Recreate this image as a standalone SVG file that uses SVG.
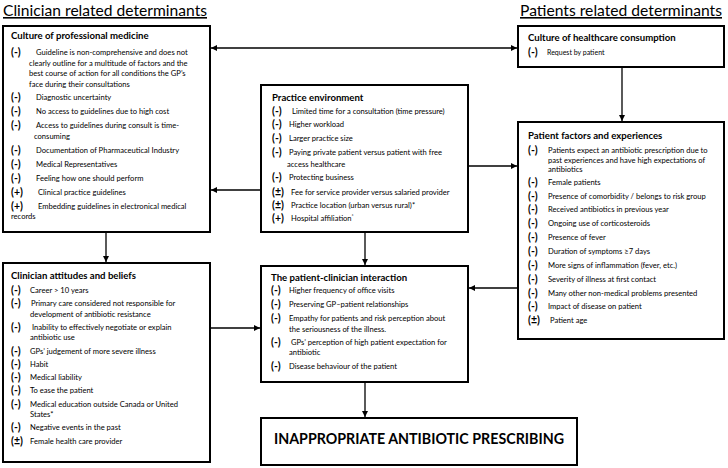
<svg xmlns="http://www.w3.org/2000/svg" width="728" height="468" viewBox="0 0 728 468">
<style>
text{font-family:Lato,"Liberation Sans",sans-serif;fill:#000}
.box{fill:#fff;stroke:#000;stroke-width:2}
.h{font-size:9.6px;font-weight:bold}
.t{font-size:7.6px}
.s{font-size:7px}
.m{font-size:10.5px;font-weight:bold}
.title{font-size:16px;text-decoration:underline}
.big{font-size:16px;font-weight:bold}
.conn line{stroke:#000;stroke-width:1.3;fill:none}
</style>
<defs>
<marker id="ah" viewBox="0 0 10 10" refX="10" refY="5" markerUnits="userSpaceOnUse" markerWidth="6" markerHeight="6" orient="auto-start-reverse">
<path d="M0,0 L10,5 L0,10 z" fill="#000"/>
</marker>
</defs>
<rect width="728" height="468" fill="#fff"/>

<text class="title" x="3" y="16" textLength="204" lengthAdjust="spacingAndGlyphs">Clinician related determinants</text>
<text class="title" x="520" y="16" textLength="202" lengthAdjust="spacingAndGlyphs">Patients related determinants</text>

<g class="conn">
<line x1="211" y1="48" x2="517" y2="48" marker-start="url(#ah)" marker-end="url(#ah)"/>
<line x1="622" y1="67" x2="622" y2="121" marker-end="url(#ah)"/>
<line x1="261" y1="190" x2="211" y2="190" marker-end="url(#ah)"/>
<line x1="468" y1="166" x2="517" y2="166" marker-end="url(#ah)"/>
<line x1="106" y1="232" x2="106" y2="262" marker-end="url(#ah)"/>
<line x1="365" y1="232" x2="365" y2="265" marker-end="url(#ah)"/>
<line x1="210" y1="328" x2="260" y2="328" marker-end="url(#ah)"/>
<line x1="517" y1="288" x2="469" y2="288" marker-end="url(#ah)"/>
<line x1="365" y1="382" x2="365" y2="417" marker-end="url(#ah)"/>
</g>

<g id="culture-professional-medicine">
<rect class="box" x="3" y="26" width="207" height="206"/>
<text class="h" x="11" y="39">Culture of professional medicine</text>
<text class="m" x="11" y="56">(-)</text><text class="t" x="36" y="55">Guideline is non-comprehensive and does not</text>
<text class="t" x="29" y="65.5">clearly outline for a multitude of factors and the</text>
<text class="t" x="29" y="76">best course of action for all conditions the GP’s</text>
<text class="t" x="29" y="86.5">face during their consultations</text>
<text class="m" x="11" y="101">(-)</text><text class="t" x="36" y="100">Diagnostic uncertainty</text>
<text class="m" x="11" y="115">(-)</text><text class="t" x="36" y="114">No access to guidelines due to high cost</text>
<text class="m" x="11" y="129">(-)</text><text class="t" x="36" y="128">Access to guidelines during consult is time-</text>
<text class="t" x="34" y="138.5">consuming</text>
<text class="m" x="11" y="153.5">(-)</text><text class="t" x="36" y="152.5">Documentation of Pharmaceutical Industry</text>
<text class="m" x="11" y="167.5">(-)</text><text class="t" x="36" y="166.5">Medical Representatives</text>
<text class="m" x="11" y="181.5">(-)</text><text class="t" x="36" y="180.5">Feeling how one should perform</text>
<text class="m" x="11" y="195.5">(+)</text><text class="t" x="38" y="194.5">Clinical practice guidelines</text>
<text class="m" x="11" y="209.5">(+)</text><text class="t" x="38" y="208.5">Embedding guidelines in electronical medical</text>
<text class="t" x="11" y="219">records</text>
</g>

<g id="clinician-attitudes-beliefs">
<rect class="box" x="3" y="263" width="207" height="199"/>
<text class="h" x="11" y="279">Clinician attitudes and beliefs</text>
<text class="m" x="11" y="294">(-)</text><text class="t" x="30" y="293">Career &gt; 10 years</text>
<text class="m" x="11" y="307.3">(-)</text><text class="t" x="31" y="306.3">Primary care considered not responsible for</text>
<text class="t" x="30" y="316.6">development of antibiotic resistance</text>
<text class="m" x="11" y="330.9">(-)</text><text class="t" x="32" y="329.9">Inability to effectively negotiate or explain</text>
<text class="t" x="30" y="340.2">antibiotic use</text>
<text class="m" x="11" y="354.5">(-)</text><text class="t" x="30" y="353.5">GPs’ judgement of more severe illness</text>
<text class="m" x="11" y="367.8">(-)</text><text class="t" x="30" y="366.8">Habit</text>
<text class="m" x="11" y="381.1">(-)</text><text class="t" x="30" y="380.1">Medical liability</text>
<text class="m" x="11" y="394.4">(-)</text><text class="t" x="30" y="393.4">To ease the patient</text>
<text class="m" x="11" y="407.7">(-)</text><text class="t" x="30" y="406.7">Medical education outside Canada or United</text>
<text class="t" x="30" y="417">States*</text>
<text class="m" x="11" y="431.3">(-)</text><text class="t" x="30" y="430.3">Negative events in the past</text>
<text class="m" x="11" y="444.6">(±)</text><text class="t" x="30" y="443.6">Female health care provider</text>
</g>

<g id="practice-environment">
<rect class="box" x="261" y="85" width="207" height="147"/>
<text class="h" x="272" y="101">Practice environment</text>
<text class="m" x="272" y="115">(-)</text><text class="t" x="292" y="114">Limited time for a consultation (time pressure)</text>
<text class="m" x="272" y="128">(-)</text><text class="t" x="289" y="127">Higher workload</text>
<text class="m" x="272" y="142">(-)</text><text class="t" x="289" y="141">Larger practice size</text>
<text class="m" x="272" y="156">(-)</text><text class="t" x="289" y="155">Paying private patient versus patient with free</text>
<text class="t" x="287" y="167">access healthcare</text>
<text class="m" x="272" y="181">(-)</text><text class="t" x="289" y="180">Protecting business</text>
<text class="m" x="272" y="196">(±)</text><text class="t" x="291" y="195">Fee for service provider versus salaried provider</text>
<text class="m" x="272" y="209">(±)</text><text class="t" x="291" y="208">Practice location (urban versus rural)*</text>
<text class="m" x="272" y="222">(+)</text><text class="t" x="291" y="221">Hospital affiliation<tspan font-size="5" dy="-3">*</tspan></text>
</g>

<g id="patient-clinician-interaction">
<rect class="box" x="261" y="266" width="207" height="116"/>
<text class="h" x="271" y="281">The patient-clinician interaction</text>
<text class="m" x="271" y="294">(-)</text><text class="t" x="289" y="293">Higher frequency of office visits</text>
<text class="m" x="271" y="308">(-)</text><text class="t" x="289" y="307">Preserving GP–patient relationships</text>
<text class="m" x="271" y="322">(-)</text><text class="t" x="289" y="321">Empathy for patients and risk perception about</text>
<text class="t" x="289" y="332">the seriousness of the illness.</text>
<text class="m" x="271" y="346">(-)</text><text class="t" x="291" y="345">GPs’ perception of high patient expectation for</text>
<text class="t" x="289" y="355">antibiotic</text>
<text class="m" x="271" y="370">(-)</text><text class="t" x="289" y="369">Disease behaviour of the patient</text>
</g>

<g id="inappropriate-prescribing">
<rect class="box" x="261" y="418" width="316" height="47"/>
<text class="big" x="419" y="444" text-anchor="middle" textLength="290" lengthAdjust="spacingAndGlyphs">INAPPROPRIATE ANTIBIOTIC PRESCRIBING</text>
</g>

<g id="culture-healthcare-consumption">
<rect class="box" x="518" y="26" width="206" height="41"/>
<text class="h" x="528" y="41">Culture of healthcare consumption</text>
<text class="m" x="528" y="56">(-)</text><text class="s" x="547" y="55">Request by patient</text>
</g>

<g id="patient-factors-experiences">
<rect class="box" x="518" y="122" width="206" height="217"/>
<text class="h" x="528" y="139">Patient factors and experiences</text>
<text class="m" x="528" y="154">(-)</text><text class="t" x="548" y="153">Patients expect an antibiotic prescription due to</text>
<text class="t" x="548" y="162.5">past experiences and have high expectations of</text>
<text class="t" x="548" y="172">antibiotics</text>
<text class="m" x="528" y="186">(-)</text><text class="t" x="548" y="185">Female patients</text>
<text class="m" x="528" y="199.5">(-)</text><text class="t" x="548" y="198.5">Presence of comorbidity / belongs to risk group</text>
<text class="m" x="528" y="213">(-)</text><text class="t" x="548" y="212">Received antibiotics in previous year</text>
<text class="m" x="528" y="226.5">(-)</text><text class="t" x="548" y="225.5">Ongoing use of corticosteroids</text>
<text class="m" x="528" y="241">(-)</text><text class="t" x="548" y="240">Presence of fever</text>
<text class="m" x="528" y="255">(-)</text><text class="t" x="548" y="254">Duration of symptoms ≥7 days</text>
<text class="m" x="528" y="269">(-)</text><text class="t" x="548" y="268">More signs of inflammation (fever, etc.)</text>
<text class="m" x="528" y="283">(-)</text><text class="t" x="548" y="282">Severity of illness at first contact</text>
<text class="m" x="528" y="296.5">(-)</text><text class="t" x="548" y="295.5">Many other non-medical problems presented</text>
<text class="m" x="528" y="310">(-)</text><text class="t" x="548" y="309">Impact of disease on patient</text>
<text class="m" x="528" y="324">(±)</text><text class="t" x="550" y="323">Patient age</text>
</g>
</svg>
